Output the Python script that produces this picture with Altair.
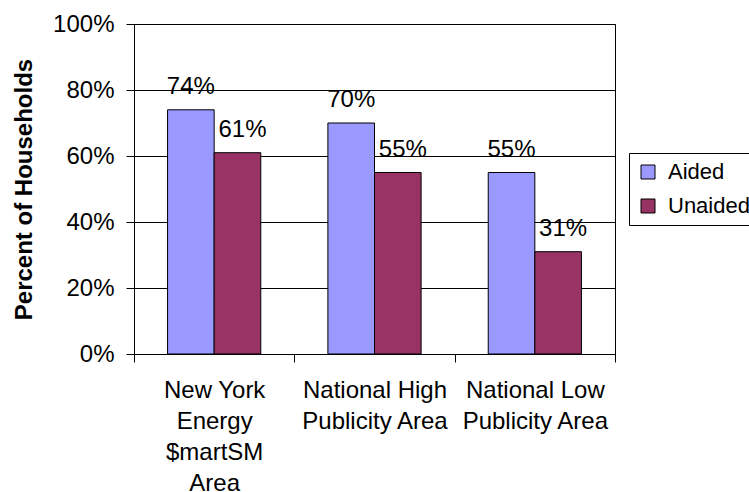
import altair as alt
import pandas as pd

# Survey results: awareness of the program by area
categories = [
    "New York|Energy|$martSM|Area",
    "National High|Publicity Area",
    "National Low|Publicity Area",
]
series = ["Aided", "Unaided"]
aided = [74, 70, 55]
unaided = [61, 55, 31]
y_ticks = [0, 20, 40, 60, 80, 100]
colors = ["#9999FF", "#993366"]

rows = []
for cat, a, u in zip(categories, aided, unaided):
    rows.append({"area": cat, "measure": "Aided", "pct": a})
    rows.append({"area": cat, "measure": "Unaided", "pct": u})
df = pd.DataFrame(rows)

FONT = "Liberation Sans"

x_enc = alt.X(
    "area:N",
    sort=categories,
    title=None,
    scale=alt.Scale(paddingInner=0, paddingOuter=0),
    axis=alt.Axis(
        labelExpr="split(datum.label, '|')",
        labelAngle=0,
        tickBand="extent",
        labelFontSize=24,
        labelLineHeight=31,
        labelPadding=16,
        labelLimit=400,
        tickSize=8,
        grid=False,
    ),
)
xoff_enc = alt.XOffset(
    "measure:N", sort=series,
    scale=alt.Scale(paddingInner=0, paddingOuter=0.72),
)
y_enc = alt.Y(
    "pct:Q",
    scale=alt.Scale(domain=[0, 100]),
    title="Percent of Households",
    axis=alt.Axis(
        values=y_ticks,
        labelExpr="datum.value + '%'",
        labelFontSize=24,
        labelPadding=12,
        tickSize=8,
        grid=True,
        gridColor="black",
        gridOpacity=1,
        titleFontSize=24,
        titleFontWeight="bold",
        titlePadding=16,
    ),
)
color_enc = alt.Color(
    "measure:N",
    sort=series,
    scale=alt.Scale(domain=series, range=colors),
    legend=alt.Legend(
        title=None,
        orient="none",
        legendX=495,
        legendY=129,
        strokeColor="black",
        fillColor="white",
        padding=8,
        labelFontSize=22,
        labelOffset=9,
        rowPadding=12,
        symbolType="square",
        symbolSize=196,
        symbolStrokeColor="black",
        symbolStrokeWidth=1,
        symbolOpacity=1,
    ),
)

bars = alt.Chart(df).mark_bar(stroke="black", strokeWidth=1, opacity=1).encode(
    x=x_enc, xOffset=xoff_enc, y=y_enc, color=color_enc
)

def value_labels(name, shift):
    return (
        alt.Chart(df)
        .transform_filter(alt.datum.measure == name)
        .transform_calculate(label="datum.pct + '%'")
        .mark_text(baseline="alphabetic", dy=-16, dx=shift, fontSize=24,
                   font=FONT, color="black")
        .encode(x=x_enc, xOffset=xoff_enc, y=y_enc, text="label:N")
    )

chart = (
    alt.layer(bars, value_labels("Aided", 0), value_labels("Unaided", 5))
    .properties(
        width=481,
        height=330,
        autosize=alt.AutoSizeParams(type="none"),
        padding={"left": 134, "top": 24, "right": 134, "bottom": 138},
    )
    .configure(font=FONT, background="white")
    .configure_view(stroke="black", strokeWidth=1)
    .configure_axis(
        domainColor="black",
        tickColor="black",
        labelColor="black",
        titleColor="black",
        labelFont=FONT,
        titleFont=FONT,
    )
    .configure_legend(labelFont=FONT, labelColor="black")
)

chart.save("out.html", embed_options={"renderer": "svg", "actions": False})
